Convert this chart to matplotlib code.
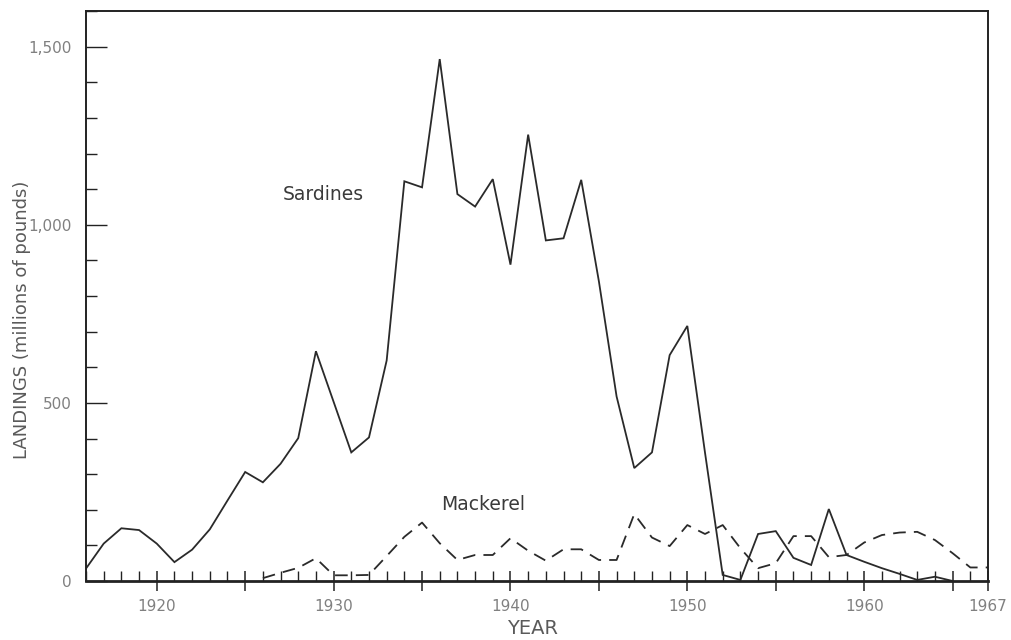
import matplotlib
matplotlib.use("Agg")
import matplotlib.pyplot as plt
from matplotlib.ticker import FixedLocator, MultipleLocator

# ---- data ----
sardine_years = list(range(1916, 1966))
sardine_values = [35, 105, 148, 143, 105, 53, 88, 145, 226, 306,
                  277, 329, 401, 645, 503, 361, 403, 619, 1122, 1105,
                  1465, 1086, 1051, 1128, 888, 1253, 956, 962, 1126, 841,
                  518, 317, 361, 634, 716, 360, 17, 3, 132, 140,
                  65, 45, 202, 73, 54, 36, 20, 3, 12, 0]

mackerel_years = list(range(1926, 1968))
mackerel_values = [8, 23, 37, 64, 16, 16, 17, 70, 124, 164,
                   106, 59, 73, 73, 120, 85, 57, 89, 89, 59,
                   59, 188, 122, 98, 157, 132, 157, 92, 36, 50,
                   126, 126, 67, 73, 108, 129, 136, 138, 115, 78,
                   38, 38]

x_major_ticks = [1920, 1925, 1930, 1935, 1940, 1945, 1950, 1955, 1960, 1965, 1967]
x_tick_labels = ["1920", "", "1930", "", "1940", "", "1950", "", "1960", "", "1967"]
y_major_ticks = [0, 500, 1000, 1500]
y_tick_labels = ["0", "500", "1,000", "1,500"]

FONT = ["DejaVu Sans"]
plt.rcParams["font.family"] = FONT

fig = plt.figure(figsize=(10.12, 6.4), dpi=100)
ax = fig.add_axes([86 / 1012, 1 - 581 / 640, (988 - 86) / 1012, (581 - 11) / 640])

line_col = "#2a2a2a"
ax.plot(sardine_years, sardine_values, color=line_col, lw=1.3, solid_joinstyle="miter")
ax.plot(mackerel_years, mackerel_values, color=line_col, lw=1.3, dashes=(7, 4.5))

ax.set_xlim(1916, 1967)
ax.set_ylim(0, 1600)

for s in ["left", "top", "right"]:
    ax.spines[s].set_linewidth(1.4)
    ax.spines[s].set_color("#222222")
ax.spines["bottom"].set_linewidth(2.0)
ax.spines["bottom"].set_color("#222222")

ax.xaxis.set_major_locator(FixedLocator(x_major_ticks))
ax.set_xticklabels(x_tick_labels)
ax.xaxis.set_minor_locator(MultipleLocator(1))
ax.yaxis.set_major_locator(FixedLocator(y_major_ticks))
ax.set_yticklabels(y_tick_labels)
ax.yaxis.set_minor_locator(MultipleLocator(100))

ax.tick_params(axis="x", which="major", direction="inout", length=14, width=1.1,
               color="#222222", labelsize=11, labelcolor="#808080", pad=6)
ax.tick_params(axis="x", which="minor", direction="in", length=7, width=1.0, color="#222222")
ax.tick_params(axis="y", which="major", direction="in", length=15, width=1.0,
               color="#222222", labelsize=11, labelcolor="#808080", pad=10)
ax.tick_params(axis="y", which="minor", direction="in", length=8, width=1.0, color="#222222")
ax.tick_params(top=False, right=False)

ax.text(1927.1, 1085, "Sardines", fontsize=13.5, color="#3a3a3a", ha="left", va="center")
ax.text(1936.1, 215, "Mackerel", fontsize=13.5, color="#3a3a3a", ha="left", va="center")

fig.text(533 / 1012, 1 - 629 / 640, "YEAR", fontsize=14, color="#5a5a5a", ha="center", va="center")
fig.text(22 / 1012, 1 - 320 / 640, "LANDINGS (millions of pounds)", fontsize=13, color="#5a5a5a",
         ha="center", va="center", rotation=90)

fig.savefig("out.png", dpi=100, facecolor="white")
